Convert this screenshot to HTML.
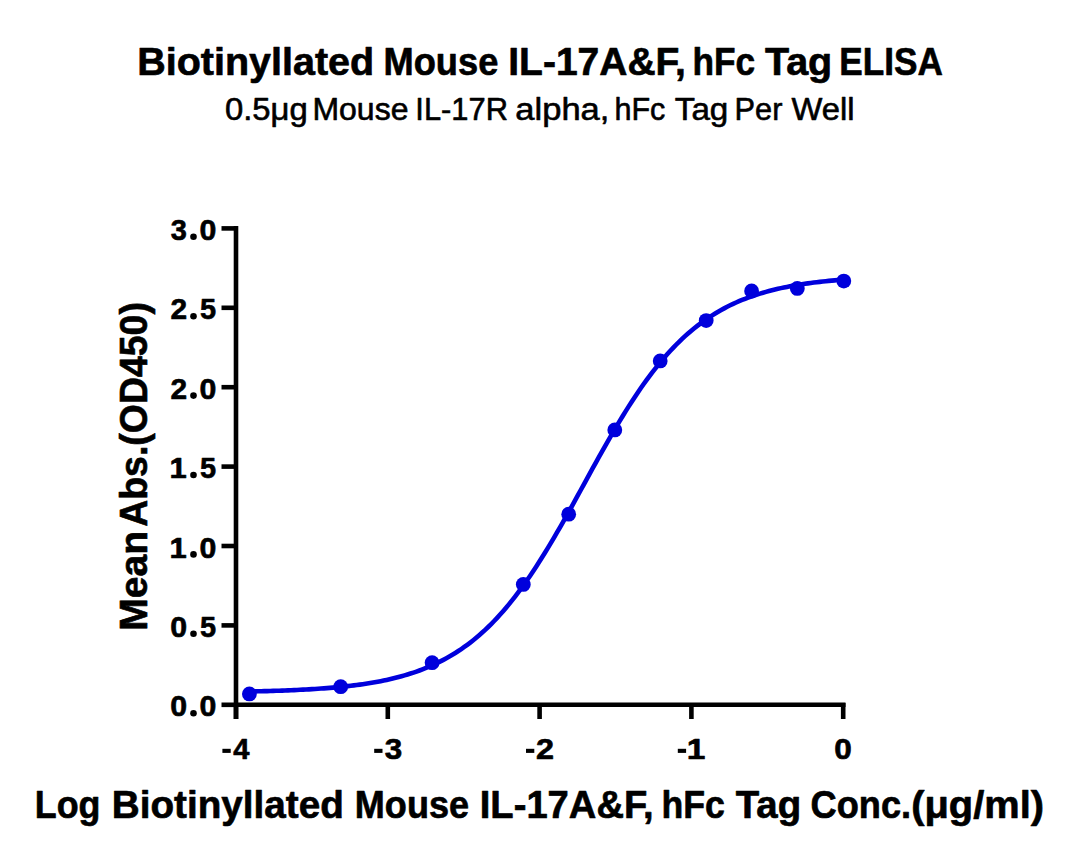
<!DOCTYPE html>
<html><head><meta charset="utf-8"><style>
html,body{margin:0;padding:0;background:#fff;}
body{width:1080px;height:863px;overflow:hidden;}
svg{display:block;font-family:"Liberation Sans", sans-serif;}
</style></head><body>
<svg width="1080" height="863" viewBox="0 0 1080 863">
<rect width="1080" height="863" fill="#fff"/>
<g font-size="39" font-weight="bold" fill="#000" stroke="#000" stroke-width="0.65" stroke-linejoin="round">
<text x="137.26" y="74.80" textLength="236.94" lengthAdjust="spacingAndGlyphs">Biotinyllated</text>
<text x="383.47" y="74.80" textLength="114.87" lengthAdjust="spacingAndGlyphs">Mouse</text>
<text x="508.29" y="74.80" textLength="177.67" lengthAdjust="spacingAndGlyphs">IL-17A&amp;F,</text>
<text x="692.44" y="74.80" textLength="62.70" lengthAdjust="spacingAndGlyphs">hFc</text>
<text x="764.96" y="74.80" textLength="67.29" lengthAdjust="spacingAndGlyphs">Tag</text>
<text x="839.30" y="74.80" textLength="103.63" lengthAdjust="spacingAndGlyphs">ELISA</text>
</g>
<g font-size="31" fill="#000" stroke="#000" stroke-width="0.6" stroke-linejoin="round">
<text x="224.92" y="120.10" textLength="82.80" lengthAdjust="spacingAndGlyphs">0.5μg</text>
<text x="312.48" y="120.10" textLength="95.94" lengthAdjust="spacingAndGlyphs">Mouse</text>
<text x="415.35" y="120.10" textLength="92.58" lengthAdjust="spacingAndGlyphs">IL-17R</text>
<text x="515.33" y="120.10" textLength="94.07" lengthAdjust="spacingAndGlyphs">alpha,</text>
<text x="614.48" y="120.10" textLength="50.92" lengthAdjust="spacingAndGlyphs">hFc</text>
<text x="674.85" y="120.10" textLength="53.48" lengthAdjust="spacingAndGlyphs">Tag</text>
<text x="734.58" y="120.10" textLength="47.83" lengthAdjust="spacingAndGlyphs">Per</text>
<text x="791.46" y="120.10" textLength="63.03" lengthAdjust="spacingAndGlyphs">Well</text>
</g>
<g stroke="#000" stroke-width="4.6" fill="none">
<line x1="236" y1="226" x2="236" y2="719"/>
<line x1="234" y1="704.8" x2="845.5" y2="704.8"/>
<line x1="221.5" y1="704.80" x2="238" y2="704.80"/>
<line x1="221.5" y1="625.40" x2="238" y2="625.40"/>
<line x1="221.5" y1="546.00" x2="238" y2="546.00"/>
<line x1="221.5" y1="466.60" x2="238" y2="466.60"/>
<line x1="221.5" y1="387.20" x2="238" y2="387.20"/>
<line x1="221.5" y1="307.80" x2="238" y2="307.80"/>
<line x1="221.5" y1="228.40" x2="238" y2="228.40"/>
<line x1="236.00" y1="703" x2="236.00" y2="719"/>
<line x1="387.80" y1="703" x2="387.80" y2="719"/>
<line x1="539.60" y1="703" x2="539.60" y2="719"/>
<line x1="691.40" y1="703" x2="691.40" y2="719"/>
<line x1="843.20" y1="703" x2="843.20" y2="719"/>
</g>
<g font-size="30.4" font-weight="bold" fill="#000" stroke="#000" stroke-width="0.65" stroke-linejoin="round">
<text x="170.30" y="716.30" textLength="16.84" lengthAdjust="spacingAndGlyphs">0</text>
<text x="199.60" y="716.30" textLength="16.84" lengthAdjust="spacingAndGlyphs">0</text>
<circle cx="193.5" cy="713.20" r="3.3" stroke="none"/>
<text x="170.30" y="636.90" textLength="16.84" lengthAdjust="spacingAndGlyphs">0</text>
<text x="199.91" y="636.90" textLength="16.10" lengthAdjust="spacingAndGlyphs">5</text>
<circle cx="193.5" cy="633.80" r="3.3" stroke="none"/>
<text x="169.55" y="557.50" textLength="17.21" lengthAdjust="spacingAndGlyphs">1</text>
<text x="199.60" y="557.50" textLength="16.84" lengthAdjust="spacingAndGlyphs">0</text>
<circle cx="193.5" cy="554.40" r="3.3" stroke="none"/>
<text x="169.55" y="478.10" textLength="17.21" lengthAdjust="spacingAndGlyphs">1</text>
<text x="199.91" y="478.10" textLength="16.10" lengthAdjust="spacingAndGlyphs">5</text>
<circle cx="193.5" cy="475.00" r="3.3" stroke="none"/>
<text x="170.46" y="398.70" textLength="16.63" lengthAdjust="spacingAndGlyphs">2</text>
<text x="199.60" y="398.70" textLength="16.84" lengthAdjust="spacingAndGlyphs">0</text>
<circle cx="193.5" cy="395.60" r="3.3" stroke="none"/>
<text x="170.46" y="319.30" textLength="16.63" lengthAdjust="spacingAndGlyphs">2</text>
<text x="199.91" y="319.30" textLength="16.10" lengthAdjust="spacingAndGlyphs">5</text>
<circle cx="193.5" cy="316.20" r="3.3" stroke="none"/>
<text x="170.84" y="239.90" textLength="16.11" lengthAdjust="spacingAndGlyphs">3</text>
<text x="199.60" y="239.90" textLength="16.84" lengthAdjust="spacingAndGlyphs">0</text>
<circle cx="193.5" cy="236.80" r="3.3" stroke="none"/>
<rect x="222.40" y="748.80" width="8.30" height="4.1" stroke="none"/>
<text x="233.16" y="759.00" textLength="16.20" lengthAdjust="spacingAndGlyphs">4</text>
<rect x="374.20" y="748.80" width="8.30" height="4.1" stroke="none"/>
<text x="384.68" y="759.00" textLength="17.45" lengthAdjust="spacingAndGlyphs">3</text>
<rect x="526.00" y="748.80" width="8.30" height="4.1" stroke="none"/>
<text x="536.08" y="759.00" textLength="18.02" lengthAdjust="spacingAndGlyphs">2</text>
<rect x="677.80" y="748.80" width="8.30" height="4.1" stroke="none"/>
<text x="686.89" y="759.00" textLength="18.64" lengthAdjust="spacingAndGlyphs">1</text>
<text x="834.15" y="759.00" textLength="17.54" lengthAdjust="spacingAndGlyphs">0</text>
</g>
<path d="M249.21,691.51 L252.19,691.45 L255.18,691.38 L258.17,691.31 L261.16,691.24 L264.14,691.16 L267.13,691.08 L270.12,690.99 L273.10,690.90 L276.09,690.80 L279.08,690.70 L282.07,690.59 L285.05,690.48 L288.04,690.36 L291.03,690.24 L294.01,690.11 L297.00,689.97 L299.99,689.82 L302.98,689.67 L305.96,689.51 L308.95,689.34 L311.94,689.16 L314.92,688.97 L317.91,688.77 L320.90,688.56 L323.89,688.34 L326.87,688.11 L329.86,687.87 L332.85,687.61 L335.83,687.34 L338.82,687.06 L341.81,686.76 L344.80,686.45 L347.78,686.12 L350.77,685.77 L353.76,685.40 L356.75,685.02 L359.73,684.61 L362.72,684.19 L365.71,683.74 L368.69,683.27 L371.68,682.78 L374.67,682.26 L377.66,681.71 L380.64,681.14 L383.63,680.54 L386.62,679.91 L389.60,679.24 L392.59,678.55 L395.58,677.81 L398.57,677.04 L401.55,676.24 L404.54,675.39 L407.53,674.50 L410.51,673.57 L413.50,672.59 L416.49,671.57 L419.48,670.50 L422.46,669.37 L425.45,668.20 L428.44,666.96 L431.42,665.67 L434.41,664.32 L437.40,662.91 L440.39,661.43 L443.37,659.88 L446.36,658.27 L449.35,656.58 L452.33,654.82 L455.32,652.98 L458.31,651.06 L461.30,649.06 L464.28,646.98 L467.27,644.81 L470.26,642.55 L473.25,640.19 L476.23,637.75 L479.22,635.21 L482.21,632.57 L485.19,629.83 L488.18,626.98 L491.17,624.04 L494.16,620.99 L497.14,617.83 L500.13,614.57 L503.12,611.20 L506.10,607.71 L509.09,604.12 L512.08,600.42 L515.07,596.61 L518.05,592.69 L521.04,588.67 L524.03,584.53 L527.01,580.29 L530.00,575.95 L532.99,571.50 L535.98,566.96 L538.96,562.32 L541.95,557.59 L544.94,552.77 L547.92,547.87 L550.91,542.89 L553.90,537.84 L556.89,532.71 L559.87,527.53 L562.86,522.29 L565.85,516.99 L568.83,511.65 L571.82,506.28 L574.81,500.87 L577.80,495.45 L580.78,490.00 L583.77,484.55 L586.76,479.10 L589.75,473.65 L592.73,468.22 L595.72,462.81 L598.71,457.43 L601.69,452.08 L604.68,446.78 L607.67,441.52 L610.66,436.32 L613.64,431.19 L616.63,426.12 L619.62,421.12 L622.60,416.20 L625.59,411.36 L628.58,406.61 L631.57,401.95 L634.55,397.39 L637.54,392.92 L640.53,388.56 L643.51,384.29 L646.50,380.14 L649.49,376.08 L652.48,372.14 L655.46,368.31 L658.45,364.58 L661.44,360.97 L664.42,357.46 L667.41,354.06 L670.40,350.77 L673.39,347.59 L676.37,344.52 L679.36,341.55 L682.35,338.69 L685.33,335.93 L688.32,333.26 L691.31,330.70 L694.30,328.23 L697.28,325.86 L700.27,323.58 L703.26,321.39 L706.25,319.29 L709.23,317.27 L712.22,315.33 L715.21,313.48 L718.19,311.70 L721.18,309.99 L724.17,308.36 L727.16,306.80 L730.14,305.31 L733.13,303.88 L736.12,302.52 L739.10,301.21 L742.09,299.97 L745.08,298.78 L748.07,297.64 L751.05,296.56 L754.04,295.52 L757.03,294.53 L760.01,293.59 L763.00,292.70 L765.99,291.84 L768.98,291.02 L771.96,290.25 L774.95,289.51 L777.94,288.80 L780.92,288.13 L783.91,287.49 L786.90,286.88 L789.89,286.30 L792.87,285.75 L795.86,285.23 L798.85,284.73 L801.83,284.25 L804.82,283.80 L807.81,283.37 L810.80,282.96 L813.78,282.57 L816.77,282.20 L819.76,281.85 L822.75,281.52 L825.73,281.20 L828.72,280.90 L831.71,280.61 L834.69,280.34 L837.68,280.08 L840.67,279.83 L843.66,279.60" stroke="#0000dc" stroke-width="4.6" fill="none" stroke-linejoin="round" stroke-linecap="round"/>
<g fill="#0000dc">
<circle cx="249.4" cy="693.9" r="7.4"/>
<circle cx="340.7" cy="686.7" r="7.4"/>
<circle cx="432.1" cy="662.7" r="7.4"/>
<circle cx="523.3" cy="584.4" r="7.4"/>
<circle cx="568.7" cy="514.2" r="7.4"/>
<circle cx="614.8" cy="429.9" r="7.4"/>
<circle cx="660.2" cy="360.9" r="7.4"/>
<circle cx="706.2" cy="320.6" r="7.4"/>
<circle cx="751.6" cy="291.0" r="7.4"/>
<circle cx="797.3" cy="288.4" r="7.4"/>
<circle cx="843.8" cy="281.1" r="7.4"/>
</g>
<g font-size="38.5" font-weight="bold" fill="#000" stroke="#000" stroke-width="0.65" stroke-linejoin="round">
<text x="34.85" y="818.40" textLength="65.64" lengthAdjust="spacingAndGlyphs">Log</text>
<text x="111.71" y="818.40" textLength="232.14" lengthAdjust="spacingAndGlyphs">Biotinyllated</text>
<text x="354.84" y="818.40" textLength="114.19" lengthAdjust="spacingAndGlyphs">Mouse</text>
<text x="479.75" y="818.40" textLength="173.91" lengthAdjust="spacingAndGlyphs">IL-17A&amp;F,</text>
<text x="661.51" y="818.40" textLength="63.44" lengthAdjust="spacingAndGlyphs">hFc</text>
<text x="735.77" y="818.40" textLength="65.40" lengthAdjust="spacingAndGlyphs">Tag</text>
<text x="810.62" y="818.40" textLength="100.47" lengthAdjust="spacingAndGlyphs">Conc.</text>
<text x="911.22" y="818.40" textLength="132.77" lengthAdjust="spacingAndGlyphs">(μg/ml)</text>
</g>
<g font-size="38.5" font-weight="bold" fill="#000" stroke="#000" stroke-width="0.65" stroke-linejoin="round" transform="translate(146.9,0) rotate(-90)">
<text x="-630.71" y="0.00" textLength="99.73" lengthAdjust="spacingAndGlyphs">Mean</text>
<text x="-526.83" y="0.00" textLength="224.70" lengthAdjust="spacingAndGlyphs">Abs.(OD450)</text>
</g>
</svg>
</body></html>
